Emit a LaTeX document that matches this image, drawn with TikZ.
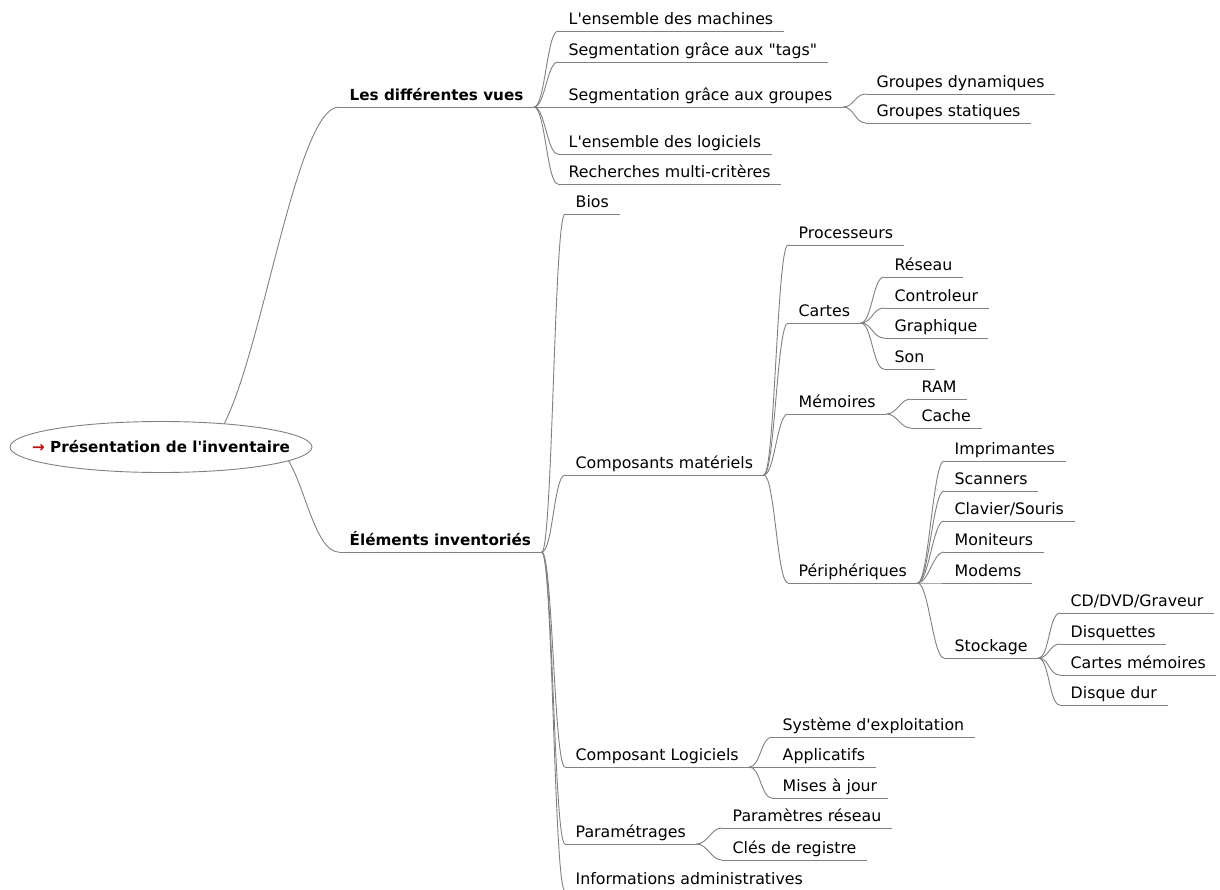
\documentclass[tikz,border=0pt]{standalone}
\usepackage{fontspec}
\setmainfont{DejaVu Sans}
\usepackage{xcolor}
\usetikzlibrary{shapes.geometric}
\usetikzlibrary{backgrounds}
\definecolor{linegray}{RGB}{128,128,128}
\definecolor{arrowred}{RGB}{190,20,20}
\tikzstyle{topic} = [anchor=south west, inner xsep=10.5pt, inner ysep=0pt, text height=12pt, text depth=6pt, font=\fontsize{15.8}{18}\selectfont, append after command={(\tikzlastnode.south west) edge [draw=linegray, line width=0.9pt] (\tikzlastnode.south east)}]
\tikzstyle{maintopic} = [topic, font=\fontsize{15.2}{18}\selectfont\bfseries]
\tikzstyle{rootnode} = [ellipse, draw=linegray, fill=white, line width=0.9pt, minimum width=302pt, minimum height=51pt, inner xsep=-30pt, inner ysep=0pt, font=\fontsize{15.2}{18}\selectfont\bfseries]
\tikzstyle{link} = [draw=linegray, line width=0.9pt, to path={.. controls +(11,0) and +(-11,0) .. (\tikztotarget)}]

\begin{document}
\begin{tikzpicture}[x=1pt, y=-1pt]
    \useasboundingbox (0,0) rectangle (1220,889);
    \clip (0,0) rectangle (1220,889);

    \node (root) [rootnode] at (161,447) {\textcolor{arrowred}{→} Présentation de l\textquotesingle inventaire};
    \node (vues) [maintopic] at (339,107) {Les différentes vues};
    \node (elements) [maintopic] at (339,552) {Éléments inventoriés};

    % les vues
    \node (machines) [topic] at (558,31) {L\textquotesingle ensemble des machines};
    \node (tags) [topic] at (558,62) {Segmentation grâce aux \textquotedbl tags\textquotedbl};
    \node (groupes) [topic] at (558,107) {Segmentation grâce aux groupes};
    \node (logiciels) [topic] at (558,154) {L\textquotesingle ensemble des logiciels};
    \node (criteres) [topic] at (558,184) {Recherches multi-critères};
    \node (dynamiques) [topic] at (866,94) {Groupes dynamiques};
    \node (statiques) [topic] at (866,123) {Groupes statiques};

    % elements inventories
    \node (bios) [topic] at (565,214) {Bios};
    \node (materiels) [topic] at (565,475) {Composants matériels};
    \node (logiciel) [topic] at (565,767) {Composant Logiciels};
    \node (parametrages) [topic] at (565,844) {Paramétrages};
    \node (infos) [topic] at (565,891) {Informations administratives};

    \node (processeurs) [topic] at (788,245) {Processeurs};
    \node (cartes) [topic] at (788,323) {Cartes};
    \node (memoires) [topic] at (788,414) {Mémoires};
    \node (peripheriques) [topic] at (788,583) {Périphériques};

    \node (reseau) [topic] at (884,277) {Réseau};
    \node (controleur) [topic] at (884,308) {Controleur};
    \node (graphique) [topic] at (884,338) {Graphique};
    \node (son) [topic] at (884,369) {Son};

    \node (ram) [topic] at (911,399) {RAM};
    \node (cache) [topic] at (911,428) {Cache};

    \node (imprimantes) [topic] at (944,461) {Imprimantes};
    \node (scanners) [topic] at (944,491) {Scanners};
    \node (clavier) [topic] at (944,521) {Clavier/Souris};
    \node (moniteurs) [topic] at (944,552) {Moniteurs};
    \node (modems) [topic] at (944,583) {Modems};
    \node (stockage) [topic] at (944,658) {Stockage};

    \node (cd) [topic] at (1060,613) {CD/DVD/Graveur};
    \node (disquettes) [topic] at (1060,644) {Disquettes};
    \node (cartesmem) [topic] at (1060,675) {Cartes mémoires};
    \node (disque) [topic] at (1060,705) {Disque dur};

    \node (systeme) [topic] at (772,737) {Système d\textquotesingle exploitation};
    \node (applicatifs) [topic] at (772,767) {Applicatifs};
    \node (mises) [topic] at (772,798) {Mises à jour};

    \node (parreseau) [topic] at (722,828) {Paramètres réseau};
    \node (cles) [topic] at (722,860) {Clés de registre};

    \begin{pgfonlayer}{background}
        \draw [link] ([xshift=40pt]root.center) .. controls +(50,0) and +(-50,0) .. (vues.south west);
        \draw [link] ([xshift=110pt]root.center) .. controls +(30,0) and +(-30,0) .. (elements.south west);
    \end{pgfonlayer}

    \draw [link] (vues.south east) to (machines.south west);
    \draw [link] (vues.south east) to (tags.south west);
    \draw [link] (vues.south east) to (groupes.south west);
    \draw [link] (vues.south east) to (logiciels.south west);
    \draw [link] (vues.south east) to (criteres.south west);
    \draw [link] (groupes.south east) to (dynamiques.south west);
    \draw [link] (groupes.south east) to (statiques.south west);

    \draw [link] (elements.south east) to (bios.south west);
    \draw [link] (elements.south east) to (materiels.south west);
    \draw [link] (elements.south east) to (logiciel.south west);
    \draw [link] (elements.south east) to (parametrages.south west);
    \draw [link] (elements.south east) to (infos.south west);

    \draw [link] (materiels.south east) to (processeurs.south west);
    \draw [link] (materiels.south east) to (cartes.south west);
    \draw [link] (materiels.south east) to (memoires.south west);
    \draw [link] (materiels.south east) to (peripheriques.south west);

    \draw [link] (cartes.south east) to (reseau.south west);
    \draw [link] (cartes.south east) to (controleur.south west);
    \draw [link] (cartes.south east) to (graphique.south west);
    \draw [link] (cartes.south east) to (son.south west);

    \draw [link] (memoires.south east) to (ram.south west);
    \draw [link] (memoires.south east) to (cache.south west);

    \draw [link] (peripheriques.south east) to (imprimantes.south west);
    \draw [link] (peripheriques.south east) to (scanners.south west);
    \draw [link] (peripheriques.south east) to (clavier.south west);
    \draw [link] (peripheriques.south east) to (moniteurs.south west);
    \draw [link] (peripheriques.south east) to (modems.south west);
    \draw [link] (peripheriques.south east) to (stockage.south west);

    \draw [link] (stockage.south east) to (cd.south west);
    \draw [link] (stockage.south east) to (disquettes.south west);
    \draw [link] (stockage.south east) to (cartesmem.south west);
    \draw [link] (stockage.south east) to (disque.south west);

    \draw [link] (logiciel.south east) to (systeme.south west);
    \draw [link] (logiciel.south east) to (applicatifs.south west);
    \draw [link] (logiciel.south east) to (mises.south west);

    \draw [link] (parametrages.south east) to (parreseau.south west);
    \draw [link] (parametrages.south east) to (cles.south west);
\end{tikzpicture}
\end{document}
